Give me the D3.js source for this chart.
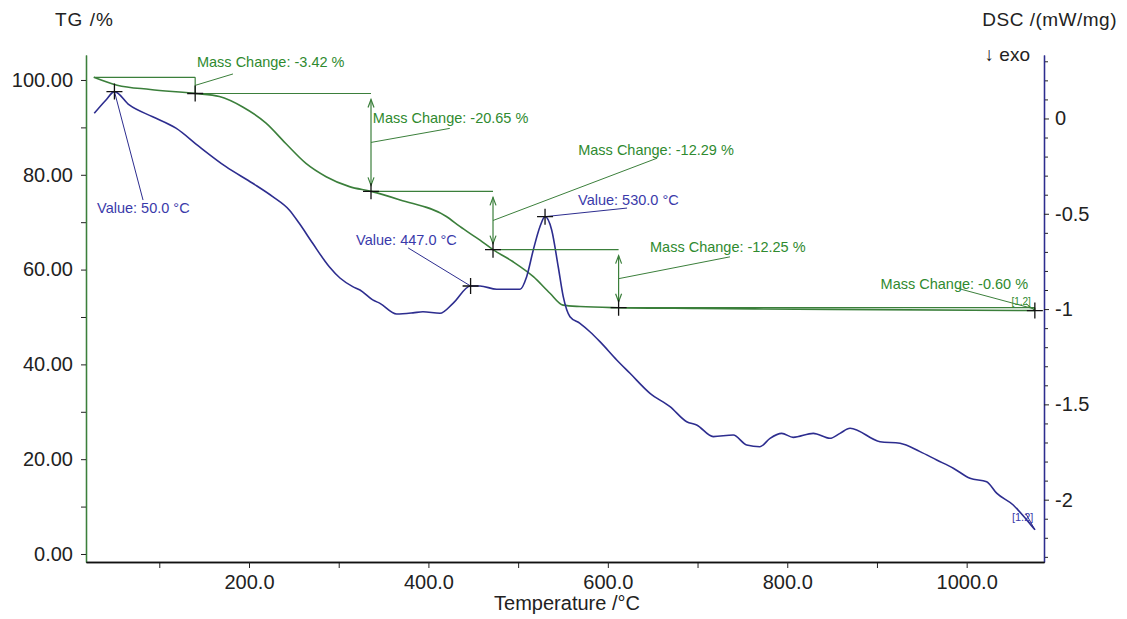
<!DOCTYPE html>
<html>
<head>
<meta charset="utf-8">
<script src="https://cdn.jsdelivr.net/npm/d3@7"></script>
<style>
  body { margin: 0; background: #fff; }
  text { font-family: "Liberation Sans", Arial, sans-serif; }
</style>
</head>
<body>
<div id="chart"></div>
<script>
const width = 1127,
    height = 619;

// TG curve (mass %)
const tgTemp = [27, 53, 90, 140, 167, 193, 219, 241, 263.5, 286, 312, 336, 368.5, 420, 435, 457.5, 472, 494, 517, 535.5, 550, 569, 612, 700, 850, 1076];
const tgMass = [100.57, 98.9, 98.0, 97.15, 96.5, 94.3, 90.9, 86.6, 82.4, 79.6, 77.5, 76.5, 74.7, 71.2, 69.1, 66.2, 64.2, 61.7, 58.5, 55.0, 52.5, 52.2, 51.96, 51.8, 51.6, 51.36];

// DSC curve (mW/mg)
const dscTemp = [27.5, 40.6, 50, 66.5, 92.6, 118.6, 144.6, 174.3, 204.1, 226.4, 244.9, 256, 271, 289.5, 301.4, 315.6, 323.7, 337.9, 346, 364.6, 382.8, 393.9, 412.9, 427.4, 447, 457.5, 476.1, 502.1, 509.5, 516.9, 524.3, 530, 537.4, 544.7, 550.3, 557.8, 568.9, 580, 591.2, 609.9, 624.7, 647, 669.3, 687.9, 699, 717.5, 739.8, 754.8, 769.6, 780.8, 793.8, 806.7, 829, 847.6, 858.8, 870, 903.4, 925.7, 948, 966.6, 985.1, 1003.7, 1022.3, 1033.4, 1051.9, 1066.9, 1076.1];
const dscValue = [0.027, 0.097, 0.141, 0.071, 0.009, -0.051, -0.148, -0.253, -0.34, -0.41, -0.48, -0.55, -0.655, -0.778, -0.837, -0.882, -0.9, -0.952, -0.97, -1.026, -1.02, -1.014, -1.022, -0.97, -0.879, -0.879, -0.896, -0.896, -0.83, -0.69, -0.568, -0.515, -0.585, -0.778, -0.935, -1.04, -1.075, -1.119, -1.171, -1.267, -1.337, -1.442, -1.512, -1.591, -1.608, -1.669, -1.661, -1.713, -1.722, -1.678, -1.652, -1.673, -1.652, -1.678, -1.652, -1.625, -1.696, -1.704, -1.748, -1.792, -1.835, -1.888, -1.906, -1.966, -2.028, -2.106, -2.158];

// mass change steps
const stepTemp = [27, 140, 336, 472, 612, 1076];
const stepMass = [100.57, 97.15, 76.50, 64.21, 51.96, 51.36];
const stepLabel = ["-3.42", "-20.65", "-12.29", "-12.25", "-0.60"];

// DSC peak values
const peakTemp = [50, 447, 530];
const peakDsc = [0.141, -0.879, -0.515];
const peakLabel = ["50.0", "447.0", "530.0"];

// ticks
const xTicks = [200, 400, 600, 800, 1000];
const xMinor = [100, 300, 500, 700, 900];
const tgTicks = [0, 20, 40, 60, 80, 100];
const tgMinor = [10, 30, 50, 70, 90];
const dscTicks = [0, -0.5, -1, -1.5, -2];
const dscMinor = [0.3, 0.2, 0.1, -0.1, -0.2, -0.3, -0.4, -0.6, -0.7, -0.8, -0.9, -1.1, -1.2, -1.3, -1.4, -1.6, -1.7, -1.8, -1.9, -2.1, -2.2, -2.3];

// label placement (temperature, axis value) and leader end offsets in px
const stepLabelPos = [[142, 103.8], [338, 91.9], [567, 85.2], [647, 64.8], [904, 56.9]];
const stepLeaderOff = [[36, 12], [77, 10], [79, 8], [80, 10], [77, 4]];
const peakLabelPos = [[30.6, -0.47], [319.4, -0.637], [566.8, -0.428]];
const peakLeaderOff = [[46, -8], [52, 8], [49, 8]];

const green = "#3b7f3b",
    greenText = "#2f8a2f",
    blue = "#2d2d8f",
    blueText = "#3a3aaa";

const plotTop = 55, plotBottom = 562, plotLeft = 86, plotRight = 1044;

const x = d3.scaleLinear().domain([18.3, 1086.2]).range([plotLeft, plotRight]);
const yTG = d3.scaleLinear().domain([-1.69, 105.27]).range([plotBottom, plotTop]);
const yDSC = d3.scaleLinear().domain([-2.327, 0.333]).range([plotBottom, plotTop]);

const svg = d3.select("#chart")
    .append("svg")
    .attr("width", width)
    .attr("height", height)
    .style("background", "#fff");

// axes
function styleAxis(g, col, size) {
    g.select(".domain").attr("stroke", col).attr("stroke-width", 1.3);
    g.selectAll(".tick line").attr("stroke", "#222");
    g.selectAll(".tick text").attr("fill", "#222").style("font-size", size + "px");
}

svg.append("g")
    .attr("transform", `translate(${plotLeft},0)`)
    .call(d3.axisLeft(yTG).tickValues(tgMinor).tickSize(5).tickSizeOuter(0).tickFormat(""))
    .call(g => styleAxis(g, green, 20));
svg.append("g")
    .attr("transform", `translate(${plotLeft},0)`)
    .call(d3.axisLeft(yTG).tickValues(tgTicks).tickSize(5).tickPadding(8).tickSizeOuter(0).tickFormat(d3.format(".2f")))
    .call(g => styleAxis(g, green, 20));

svg.append("g")
    .attr("transform", `translate(${plotRight},0)`)
    .call(d3.axisRight(yDSC).tickValues(dscMinor).tickSize(4).tickSizeOuter(0).tickFormat(""))
    .call(g => styleAxis(g, blue, 20));
svg.append("g")
    .attr("transform", `translate(${plotRight},0)`)
    .call(d3.axisRight(yDSC).tickValues(dscTicks).tickSize(5).tickPadding(6).tickSizeOuter(0).tickFormat(d => String(d)))
    .call(g => styleAxis(g, blue, 20));

svg.append("g")
    .attr("transform", `translate(0,${plotBottom})`)
    .call(d3.axisBottom(x).tickValues(xMinor).tickSize(6).tickSizeOuter(0).tickFormat(""))
    .call(g => styleAxis(g, "#111", 20));
svg.append("g")
    .attr("transform", `translate(0,${plotBottom})`)
    .call(d3.axisBottom(x).tickValues(xTicks).tickSize(6).tickPadding(7).tickSizeOuter(0).tickFormat(d3.format(".1f")))
    .call(g => styleAxis(g, "#111", 20));

// titles
svg.append("text").attr("x", 55).attr("y", 26).attr("fill", "#222")
    .style("font-size", "19px").style("letter-spacing", "1px").text("TG /%");
svg.append("text").attr("x", 1117).attr("y", 26).attr("fill", "#222").attr("text-anchor", "end")
    .style("font-size", "19px").style("letter-spacing", "0.5px").text("DSC /(mW/mg)");
svg.append("text").attr("x", 1030).attr("y", 61).attr("fill", "#222").attr("text-anchor", "end")
    .style("font-size", "19px").text("\u2193 exo");
svg.append("text").attr("x", (plotLeft + plotRight) / 2 + 2).attr("y", 610).attr("fill", "#222").attr("text-anchor", "middle")
    .style("font-size", "20px").text("Temperature /°C");

// curves
const tgData = tgTemp.map((t, i) => [t, tgMass[i]]);
const dscData = dscTemp.map((t, i) => [t, dscValue[i]]);

svg.append("path")
    .datum(tgData)
    .attr("fill", "none")
    .attr("stroke", green)
    .attr("stroke-width", 1.6)
    .attr("d", d3.line().x(d => x(d[0])).y(d => yTG(d[1])).curve(d3.curveMonotoneX));

svg.append("path")
    .datum(dscData)
    .attr("fill", "none")
    .attr("stroke", blue)
    .attr("stroke-width", 1.6)
    .attr("d", d3.line().x(d => x(d[0])).y(d => yDSC(d[1])).curve(d3.curveMonotoneX));

// mass change steps
const ann = svg.append("g").attr("stroke", green).attr("stroke-width", 1.2).attr("fill", "none");

for (let i = 0; i < stepLabel.length; i++) {
    const x0 = x(stepTemp[i]), x1 = x(stepTemp[i + 1]);
    const ya = yTG(stepMass[i]), yb = yTG(stepMass[i + 1]);
    ann.append("line").attr("x1", x0).attr("x2", x1).attr("y1", ya).attr("y2", ya);
    if (yb - ya > 30) {
        const a = ya + 6, b = yb - 6;
        ann.append("line").attr("x1", x1).attr("x2", x1).attr("y1", a).attr("y2", b);
        ann.append("path").attr("d", `M${x1 - 3},${a + 8}L${x1},${a}L${x1 + 3},${a + 8}`);
        ann.append("path").attr("d", `M${x1 - 3},${b - 8}L${x1},${b}L${x1 + 3},${b - 8}`);
    } else {
        ann.append("line").attr("x1", x1).attr("x2", x1).attr("y1", ya).attr("y2", yb);
    }
    const lx = x(stepLabelPos[i][0]), ly = yTG(stepLabelPos[i][1]);
    ann.append("line")
        .attr("x1", x1).attr("y1", (ya + yb) / 2)
        .attr("x2", lx + stepLeaderOff[i][0]).attr("y2", ly + stepLeaderOff[i][1])
        .attr("stroke-width", 1);
    svg.append("text")
        .attr("x", lx).attr("y", ly).attr("dy", "0.35em")
        .attr("fill", greenText)
        .style("font-size", "14.5px")
        .text(`Mass Change: ${stepLabel[i]} %`);
}

// peak values
for (let i = 0; i < peakTemp.length; i++) {
    const px = x(peakTemp[i]), py = yDSC(peakDsc[i]);
    const lx = x(peakLabelPos[i][0]), ly = yDSC(peakLabelPos[i][1]);
    svg.append("line")
        .attr("x1", px).attr("y1", py)
        .attr("x2", lx + peakLeaderOff[i][0]).attr("y2", ly + peakLeaderOff[i][1])
        .attr("stroke", blue).attr("stroke-width", 1);
    svg.append("text")
        .attr("x", lx).attr("y", ly).attr("dy", "0.35em")
        .attr("fill", blueText)
        .style("font-size", "14.5px")
        .text(`Value: ${peakLabel[i]} °C`);
}

// curve end labels
const endT = tgTemp[tgTemp.length - 1];
const endTg = yTG(tgMass[tgMass.length - 1]);
svg.append("line")
    .attr("x1", x(endT) - 9).attr("y1", endTg - 7)
    .attr("x2", x(endT)).attr("y2", endTg)
    .attr("stroke", green).attr("stroke-width", 1);
svg.append("text")
    .attr("x", x(endT) - 4).attr("y", endTg - 6)
    .attr("fill", greenText).attr("text-anchor", "end").style("font-size", "10px").text("[1.2]");
const endD = yDSC(dscValue[dscValue.length - 1]);
svg.append("line")
    .attr("x1", x(dscTemp[dscTemp.length - 1]) - 9).attr("y1", endD - 16)
    .attr("x2", x(dscTemp[dscTemp.length - 1])).attr("y2", endD)
    .attr("stroke", blue).attr("stroke-width", 1);
svg.append("text")
    .attr("x", x(dscTemp[dscTemp.length - 1]) - 23).attr("y", endD - 9)
    .attr("fill", blueText).style("font-size", "11px").text("[1.2]");

// markers
const marks = stepTemp.slice(1).map((t, i) => [x(t), yTG(stepMass[i + 1])])
    .concat(peakTemp.map((t, i) => [x(t), yDSC(peakDsc[i])]));

svg.selectAll(null)
    .data(marks)
    .join("path")
    .attr("d", d => `M${d[0] - 8},${d[1]}H${d[0] + 8}M${d[0]},${d[1] - 8}V${d[1] + 8}`)
    .attr("stroke", "#111")
    .attr("stroke-width", 1.3);
</script>
</body>
</html>
